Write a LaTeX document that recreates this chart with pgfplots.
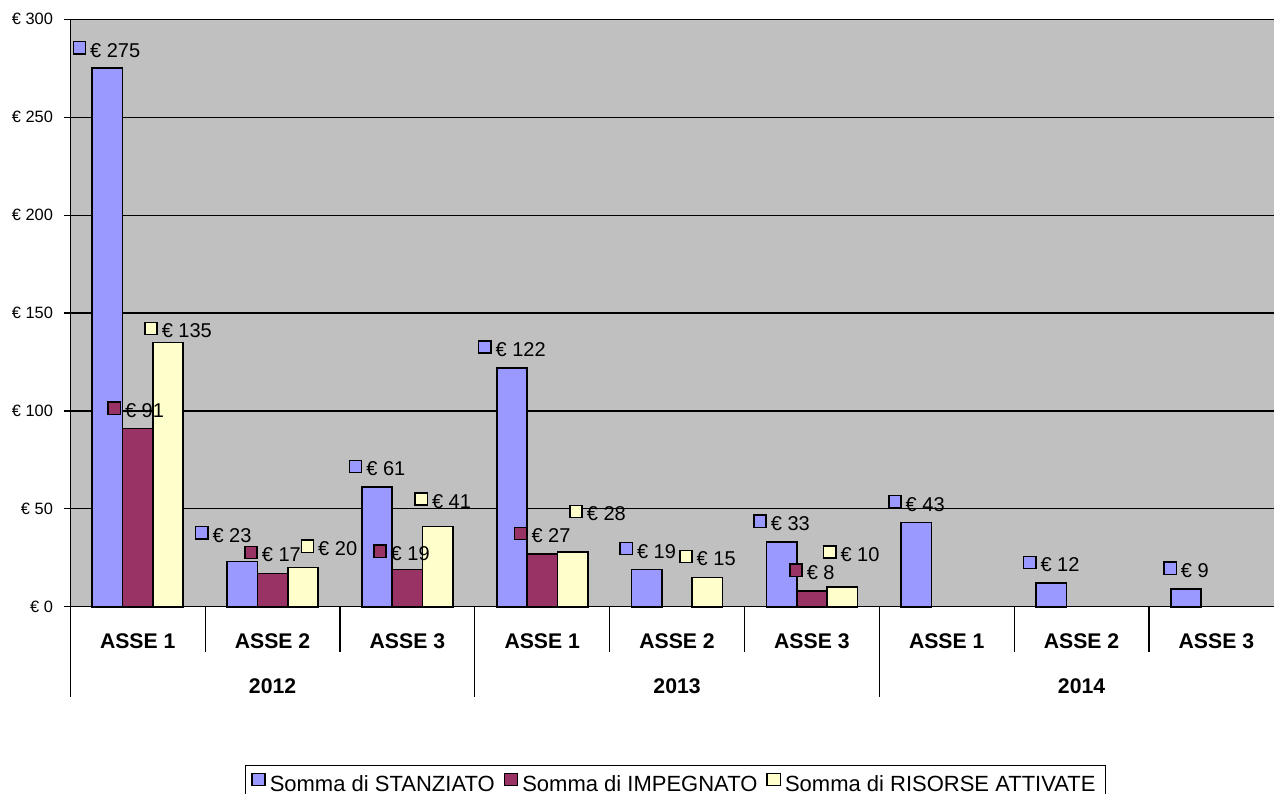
\documentclass[border=0pt]{standalone}
\usepackage{fontspec}
\setmainfont{Liberation Sans}
\usepackage{pgfplots}
\usepackage{pgfplotstable}
\pgfplotsset{compat=1.18}

\definecolor{stanz}{HTML}{9999FF}
\definecolor{impeg}{HTML}{993366}
\definecolor{risor}{HTML}{FFFFCC}
\definecolor{bggray}{HTML}{C0C0C0}

\newcommand\ticksize{\fontsize{8.2pt}{10pt}\selectfont}
\newcommand\lblsize{\fontsize{10pt}{12pt}\selectfont}
\newcommand\catsize{\fontsize{10.6pt}{12pt}\selectfont\bfseries}
\newcommand\legsize{\fontsize{11pt}{13pt}\selectfont}
% little coloured square in front of each data label
\newcommand\keybox[1]{\raisebox{2pt}{\setlength\fboxsep{0pt}\setlength\fboxrule{0.7pt}\fcolorbox{black}{#1}{\rule{0pt}{5.4pt}\hspace{5.4pt}}}}

% x = category slot, y = value, dx/dy = label offset (pt) as placed in the original
\pgfplotstableread{
x   y   dx    dy
0.5 275 -0.5  9.5
1.5 23  -9.5  13.75
2.5 61  0     9.75
3.5 122 0     9.75
4.5 19  0.5   9.75
5.5 33  0     9.75
6.5 43  0     9.75
7.5 12  0     9.75
8.5 9   0     9.75
}\stanztab
\pgfplotstableread{
x   y   dx    dy
0.5 91  -1    9.5
1.5 17  0     9.75
2.5 19  -3    8.5
3.5 27  0     9.5
5.5 8   0     9.75
}\impegtab
\pgfplotstableread{
x   y   dx    dy
0.5 135 5     6.25
1.5 20  13    10
2.5 41  2.5   13
3.5 28  12.5  19.5
4.5 15  0     9.75
5.5 10  4.5   16.85
}\risortab

\begin{document}
\begin{tikzpicture}
\begin{axis}[
    name=ax, at={(0,0)}, anchor=south west,
    scale only axis, width=606.75pt, height=293.7pt,
    xmin=0, xmax=9, ymin=0, ymax=300,
    ybar=0pt, bar width=0.225,
    axis background/.style={fill=bggray},
    axis line style={black, line width=0.6pt},
    xtick=\empty,
    ytick={0,50,...,300}, ytick pos=left,
    yticklabels={€ 0,€ 50,€ 100,€ 150,€ 200,€ 250,€ 300},
    ymajorgrids, grid style={black, line width=0.6pt},
    tick align=outside, major tick length=3pt,
    tick style={black, line width=0.6pt},
    yticklabel style={font=\ticksize, anchor=east, inner sep=0pt, xshift=-5.5pt},
    clip=false,
    nodes near coords style={font=\lblsize, anchor=center, inner sep=0pt,
        xshift=\ldx pt, yshift=\ldy pt},
    visualization depends on={\thisrow{dx} \as \ldx},
    visualization depends on={\thisrow{dy} \as \ldy},
    legend columns=3,
    legend style={at={(0.4986,0)}, anchor=north, yshift=-79pt,
        draw=black, line width=0.6pt, font=\legsize,
        inner xsep=3pt, inner ysep=3pt,
        /tikz/every even column/.append style={column sep=2.5pt}},
]
\addplot[fill=stanz, draw=black, line width=0.8pt,
    nodes near coords={\keybox{stanz}\hspace{2pt}€ \pgfmathprintnumber[assume math mode=true]{\pgfplotspointmeta}},
    legend image code/.code={\draw[fill=stanz, draw=black, line width=0.7pt] (0pt,-0.5pt) rectangle (6.6pt,5.5pt);}]
    table[x=x, y=y] {\stanztab};
\addlegendentry{Somma di STANZIATO}
\addplot[fill=impeg, draw=black, line width=0.8pt,
    nodes near coords={\keybox{impeg}\hspace{2pt}€ \pgfmathprintnumber[assume math mode=true]{\pgfplotspointmeta}},
    legend image code/.code={\draw[fill=impeg, draw=black, line width=0.7pt] (0pt,-0.5pt) rectangle (6.6pt,5.5pt);}]
    table[x=x, y=y] {\impegtab};
\addlegendentry{Somma di IMPEGNATO}
\addplot[fill=risor, draw=black, line width=0.8pt,
    nodes near coords={\keybox{risor}\hspace{2pt}€ \pgfmathprintnumber[assume math mode=true]{\pgfplotspointmeta}},
    legend image code/.code={\draw[fill=risor, draw=black, line width=0.7pt] (0pt,-0.5pt) rectangle (6.6pt,5.5pt);}]
    table[x=x, y=y] {\risortab};
\addlegendentry{Somma di RISORSE ATTIVATE}

% separators under the axis
\draw[black, line width=0.6pt] (axis cs:0,0) -- ++(0,-45pt);
\draw[black, line width=0.6pt] (axis cs:3,0) -- ++(0,-45pt);
\draw[black, line width=0.6pt] (axis cs:6,0) -- ++(0,-45pt);
\draw[black, line width=0.6pt] (axis cs:1,0) -- ++(0,-22.5pt);
\draw[black, line width=0.6pt] (axis cs:2,0) -- ++(0,-22.5pt);
\draw[black, line width=0.6pt] (axis cs:4,0) -- ++(0,-22.5pt);
\draw[black, line width=0.6pt] (axis cs:5,0) -- ++(0,-22.5pt);
\draw[black, line width=0.6pt] (axis cs:7,0) -- ++(0,-22.5pt);
\draw[black, line width=0.6pt] (axis cs:8,0) -- ++(0,-22.5pt);

\node[font=\catsize] at ([yshift=-17.2pt]axis cs:0.5,0) {ASSE 1};
\node[font=\catsize] at ([yshift=-17.2pt]axis cs:1.5,0) {ASSE 2};
\node[font=\catsize] at ([yshift=-17.2pt]axis cs:2.5,0) {ASSE 3};
\node[font=\catsize] at ([yshift=-17.2pt]axis cs:3.5,0) {ASSE 1};
\node[font=\catsize] at ([yshift=-17.2pt]axis cs:4.5,0) {ASSE 2};
\node[font=\catsize] at ([yshift=-17.2pt]axis cs:5.5,0) {ASSE 3};
\node[font=\catsize] at ([yshift=-17.2pt]axis cs:6.5,0) {ASSE 1};
\node[font=\catsize] at ([yshift=-17.2pt]axis cs:7.5,0) {ASSE 2};
\node[font=\catsize] at ([yshift=-17.2pt]axis cs:8.5,0) {ASSE 3};
\node[font=\catsize] at ([yshift=-39.6pt]axis cs:1.5,0) {2012};
\node[font=\catsize] at ([yshift=-39.6pt]axis cs:4.5,0) {2013};
\node[font=\catsize] at ([yshift=-39.6pt]axis cs:7.5,0) {2014};
\end{axis}
\pgfresetboundingbox
\path[use as bounding box] (-35.15pt,-93.15pt) rectangle (601.85pt,303.35pt);
\end{tikzpicture}
\end{document}
